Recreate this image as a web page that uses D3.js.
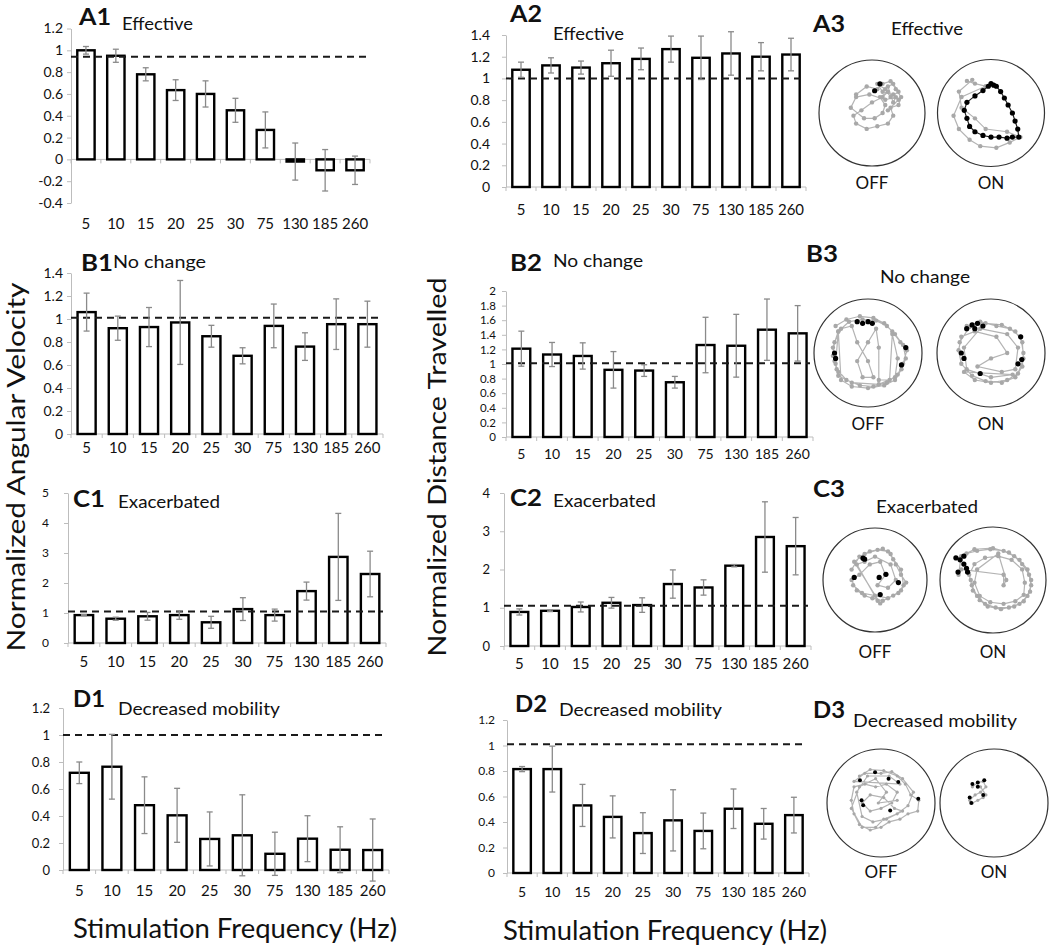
<!doctype html>
<html>
<head>
<meta charset="utf-8">
<title>Stimulation frequency panels</title>
<script src="https://d3js.org/d3.v7.min.js"></script>
<style>
	body { margin: 0; background: #fff; }
	text { font-family: Lato, "Open Sans", sans-serif; fill: #111; }
</style>
</head>
<body>
<div id="chart"></div>
<script>
// categories (Hz)
const freqs = ['5', '10', '15', '20', '25', '30', '75', '130', '185', '260'];

// bar means and error half-widths
const a1Mean = [1.0, 0.95, 0.78, 0.635, 0.6, 0.45, 0.27, -0.02, -0.1, -0.1];
const a1Err = [0.035, 0.06, 0.06, 0.095, 0.12, 0.11, 0.165, 0.17, 0.19, 0.13];
const a2Mean = [1.08, 1.12, 1.10, 1.14, 1.18, 1.27, 1.19, 1.23, 1.20, 1.22];
const a2Err = [0.07, 0.07, 0.06, 0.12, 0.10, 0.12, 0.20, 0.20, 0.13, 0.15];
const b1Mean = [1.06, 0.92, 0.93, 0.97, 0.85, 0.68, 0.94, 0.76, 0.955, 0.955];
const b1Err = [0.165, 0.105, 0.17, 0.365, 0.095, 0.07, 0.19, 0.12, 0.22, 0.2];
const b2Mean = [1.21, 1.13, 1.11, 0.92, 0.91, 0.75, 1.26, 1.25, 1.47, 1.42];
const b2Err = [0.24, 0.165, 0.18, 0.25, 0.08, 0.08, 0.38, 0.43, 0.42, 0.38];
const c1Mean = [0.93, 0.81, 0.89, 0.93, 0.69, 1.13, 0.93, 1.73, 2.87, 2.3];
const c1Err = [0.02, 0.05, 0.13, 0.14, 0.2, 0.38, 0.2, 0.3, 1.45, 0.76];
const c2Mean = [0.89, 0.92, 1.02, 1.13, 1.07, 1.62, 1.53, 2.1, 2.85, 2.61];
const c2Err = [0.08, 0.02, 0.13, 0.14, 0.19, 0.37, 0.2, 0.03, 0.92, 0.75];
const d1Mean = [0.72, 0.765, 0.48, 0.405, 0.23, 0.257, 0.12, 0.232, 0.15, 0.148];
const d1Err = [0.08, 0.24, 0.21, 0.2, 0.2, 0.3, 0.16, 0.17, 0.17, 0.23];
const d2Mean = [0.815, 0.815, 0.53, 0.44, 0.313, 0.413, 0.33, 0.504, 0.386, 0.454];
const d2Err = [0.02, 0.18, 0.165, 0.165, 0.16, 0.24, 0.14, 0.155, 0.12, 0.14];

// trajectories in the arena, x/y in units of arena radius (y down)
const a3OffGray = [[-0.3,-0.35],[-0.1,-0.5],[0.1,-0.45],[0.2,-0.55],[0.35,-0.6],[0.45,-0.45],[0.55,-0.3],[0.5,-0.15],[0.35,-0.1],[0.4,0.05],[0.3,0.2],[0.1,0.25],[-0.1,0.3],[-0.3,0.2],[-0.35,0.05],[-0.2,-0.05],[0.0,-0.2],[0.2,-0.3],[0.3,-0.4],[0.15,-0.3],[0.25,-0.15],[0.2,0.0],[0.05,0.1],[-0.15,0.1],[-0.4,-0.1],[-0.3,-0.3],[-0.05,-0.35],[0.25,-0.25],[0.45,-0.3],[0.4,-0.2],[0.3,-0.5],[0.4,-0.55],[0.5,-0.4],[0.35,-0.3],[0.25,-0.45],[0.1,-0.55],[0.2,-0.4],[0.4,-0.35],[0.5,-0.25],[0.3,-0.05]];
const a3OffBlack = [[0.15,-0.55],[0.05,-0.42]];
const a3OnGray = [[-0.45,-0.6],[-0.3,-0.55],[-0.1,-0.5],[-0.55,-0.3],[-0.7,0.05],[-0.6,0.3],[-0.4,0.5],[-0.2,0.62],[0.1,0.65],[0.35,0.55],[0.55,0.45],[0.3,0.35],[-0.1,0.3],[-0.3,0.1],[-0.55,-0.1],[-0.6,-0.4],[-0.35,-0.62]];
const a3OnBlack = [[0.0,-0.55],[0.1,-0.5],[0.18,-0.4],[0.25,-0.28],[0.32,-0.15],[0.4,0.0],[0.45,0.15],[0.5,0.3],[0.52,0.45],[0.4,0.45],[0.3,0.47],[0.15,0.45],[0.0,0.45],[-0.15,0.42],[-0.3,0.35],[-0.4,0.25],[-0.45,0.1],[-0.5,-0.05],[-0.45,-0.2],[-0.3,-0.32],[-0.15,-0.42],[-0.05,-0.5],[0.05,-0.52]];
const b3OffGray = [[-0.6,-0.5],[-0.4,-0.62],[-0.15,-0.68],[0.1,-0.65],[0.3,-0.55],[0.45,-0.4],[0.6,-0.2],[0.72,-0.05],[0.65,0.2],[0.55,0.4],[0.35,0.55],[0.1,0.62],[-0.15,0.6],[-0.4,0.5],[-0.58,0.3],[-0.65,0.05],[-0.62,-0.2],[-0.5,-0.45],[-0.3,-0.5],[-0.2,-0.2],[0.0,0.15],[0.1,0.45],[-0.1,0.45],[-0.2,0.15],[0.0,-0.2],[0.15,-0.45],[0.2,-0.1],[0.2,0.5],[0.4,0.5],[0.45,-0.35],[0.55,0.1],[0.5,0.45],[0.2,0.58],[-0.3,0.55],[-0.55,0.42],[-0.6,0.2],[-0.55,-0.4],[-0.5,0.5],[-0.3,0.62],[0.0,0.65],[0.3,0.6],[0.5,0.5],[0.62,0.3],[0.7,0.1],[0.65,-0.15],[0.5,-0.35],[0.35,-0.5],[0.15,-0.6],[-0.1,-0.62],[-0.35,-0.58],[-0.55,-0.4],[-0.65,-0.1],[-0.62,0.15],[-0.55,0.35]];
const b3OffBlack = [[-0.1,-0.55],[0.0,-0.58],[-0.2,-0.58],[0.08,-0.55],[-0.62,0.0],[-0.6,0.1],[0.7,-0.1],[0.62,0.22]];
const b3OnGray = [[-0.45,-0.5],[-0.2,-0.58],[0.1,-0.5],[0.35,-0.45],[0.55,-0.3],[0.6,0.0],[0.58,0.25],[0.45,0.45],[0.2,0.55],[-0.1,0.52],[-0.35,0.42],[-0.55,0.2],[-0.6,-0.05],[-0.55,-0.3],[-0.3,-0.4],[0.1,-0.3],[0.3,0.0],[0.0,0.1],[-0.25,0.25],[0.2,0.35],[0.45,0.3],[0.5,-0.1],[0.3,-0.35],[-0.2,-0.45],[-0.5,-0.1],[-0.45,0.3],[0.0,0.45],[0.4,0.4],[-0.5,0.35],[-0.3,0.5],[0.0,0.55],[0.3,0.5],[0.5,0.38],[0.6,0.1],[0.58,-0.2],[0.45,-0.4],[0.2,-0.52],[-0.1,-0.55],[-0.4,-0.48],[-0.58,-0.2]];
const b3OnBlack = [[-0.45,-0.45],[-0.35,-0.52],[-0.25,-0.55],[-0.15,-0.5],[-0.3,-0.45],[-0.55,0.0],[-0.5,0.1],[0.55,-0.3],[0.57,0.12],[0.5,0.2],[-0.2,0.38]];
const c3OffGray = [[-0.45,-0.2],[-0.3,-0.45],[-0.1,-0.55],[0.15,-0.6],[0.3,-0.5],[0.4,-0.3],[0.5,-0.1],[0.6,0.05],[0.5,0.2],[0.35,0.3],[0.15,0.4],[-0.05,0.35],[-0.2,0.3],[-0.35,0.2],[-0.45,0.0],[-0.3,-0.1],[-0.1,-0.3],[0.1,-0.35],[0.2,-0.1],[0.05,0.1],[0.25,0.15],[0.4,0.0],[0.3,-0.3],[0.0,-0.45],[-0.2,-0.35],[-0.35,-0.3],[0.05,0.4],[0.1,0.45],[-0.4,-0.35],[-0.2,-0.5],[0.05,-0.58],[0.25,-0.55],[0.35,-0.4],[0.5,-0.2],[0.55,0.1],[0.45,0.25],[0.25,0.35],[0.0,0.3],[-0.25,0.25],[-0.42,0.1]];
const c3OffBlack = [[-0.23,-0.42],[-0.2,-0.4],[0.21,-0.11],[0.08,-0.05],[-0.4,-0.05],[0.45,0.05],[0.1,0.28]];
const c3OnGray = [[-0.7,-0.4],[-0.5,-0.5],[-0.3,-0.55],[-0.05,-0.58],[0.2,-0.55],[0.4,-0.45],[0.55,-0.3],[0.68,-0.1],[0.72,0.1],[0.65,0.3],[0.5,0.45],[0.3,0.52],[0.05,0.52],[-0.15,0.45],[-0.3,0.3],[-0.4,0.1],[-0.45,-0.1],[-0.35,-0.3],[-0.15,-0.42],[0.1,-0.45],[0.35,-0.38],[0.55,-0.2],[0.6,0.05],[0.58,0.28],[0.42,0.4],[0.2,0.45],[-0.05,0.42],[-0.25,0.3],[-0.35,0.05],[-0.3,-0.2],[0.1,-0.5],[0.25,0.0],[0.2,0.1],[0.2,-0.1],[-0.6,-0.2],[-0.65,-0.1],[-0.6,-0.45],[-0.35,-0.58],[0.0,-0.6],[0.3,-0.52],[0.5,-0.38],[0.65,-0.2],[0.72,0.0],[0.7,0.22],[0.58,0.4],[0.4,0.5],[0.15,0.55],[-0.1,0.5],[-0.25,0.38],[-0.38,0.2],[-0.42,0.0]];
const c3OnBlack = [[-0.7,-0.42],[-0.62,-0.38],[-0.55,-0.3],[-0.5,-0.22],[-0.48,-0.15],[-0.66,-0.15],[-0.55,-0.45]];
const d3OffGray = [[-0.4,-0.5],[-0.2,-0.62],[0.05,-0.6],[0.3,-0.5],[0.45,-0.35],[0.55,-0.15],[0.7,-0.05],[0.68,0.15],[0.5,0.2],[0.35,0.3],[0.15,0.35],[0.0,0.45],[-0.2,0.5],[-0.4,0.4],[-0.5,0.2],[-0.55,-0.05],[-0.5,-0.3],[-0.3,-0.35],[-0.1,-0.3],[0.1,-0.35],[0.3,-0.2],[0.2,0.0],[0.0,0.1],[-0.2,0.15],[-0.35,0.0],[-0.2,-0.15],[0.05,-0.1],[0.25,0.1],[0.4,0.15],[0.1,0.3],[-0.15,0.35],[-0.35,0.25],[-0.45,-0.2],[-0.25,-0.5],[0.15,-0.5],[0.35,-0.35],[-0.5,-0.4],[-0.3,-0.55],[0.0,-0.55],[0.2,-0.58],[0.4,-0.45],[0.6,-0.2],[0.5,0.05],[0.3,0.2],[0.05,0.3],[-0.1,0.45],[-0.35,0.45],[-0.55,0.1],[-0.4,-0.3],[-0.1,-0.45],[0.1,-0.2],[-0.05,0.0],[0.3,-0.05]];
const d3OffBlack = [[-0.11,-0.57],[-0.39,-0.42],[0.14,-0.45],[0.32,-0.39],[0.69,-0.08],[-0.36,-0.05],[-0.33,0.04],[0.17,0.14]];
const d3OnGray = [[-0.4,-0.3],[-0.3,-0.38],[-0.2,-0.4],[-0.15,-0.3],[-0.25,-0.2],[-0.35,-0.15],[-0.45,-0.05],[-0.4,0.0],[-0.3,-0.05],[-0.2,-0.1],[-0.15,-0.15],[-0.25,-0.3]];
const d3OnBlack = [[-0.4,-0.35],[-0.3,-0.38],[-0.18,-0.42],[-0.45,-0.1],[-0.42,0.0],[-0.2,-0.15],[-0.3,-0.3]];

const W = 1050, H = 950;
const svg = d3.select('#chart').append('svg')
	.attr('width', W)
	.attr('height', H);

const fmt = d => String(+d.toFixed(1));

function barPanel(c) {
	const x = d3.scaleBand().domain(freqs).range([c.x0, c.x1])
		.paddingInner(0.42).paddingOuter(0.21);
	const y = d3.scaleLinear().domain(c.domain).range([c.yBot, c.yTop]);
	const g = svg.append('g');
	const ticks = d3.range(0, Math.round((c.domain[1] - c.domain[0]) / c.step) + 1)
		.map(i => c.domain[0] + i * c.step);

	// y axis
	g.append('g')
		.attr('transform', 'translate(' + c.x0 + ',0)')
		.call(d3.axisLeft(y).tickValues(ticks).tickSize(4).tickSizeOuter(0)
			.tickPadding(c.x0 - c.tickRight - 4).tickFormat(fmt))
		.attr('font-size', c.tickFont)
		.attr('font-family', 'Lato, sans-serif')
		.call(a => {
			a.select('.domain').attr('stroke', '#bdbdbd');
			a.selectAll('.tick line').attr('stroke', '#bdbdbd');
			a.selectAll('.tick text').attr('fill', '#333');
		});

	// x axis line with category boundary ticks
	const y0 = y(0);
	g.append('line')
		.attr('x1', c.x0).attr('x2', c.x1)
		.attr('y1', y0).attr('y2', y0)
		.attr('stroke', '#bdbdbd');
	const bounds = freqs.map(f => x(f) - (x.step() - x.bandwidth()) / 2).concat([c.x1]);
	g.selectAll('.xt').data(bounds).join('line')
		.attr('x1', d => d).attr('x2', d => d)
		.attr('y1', y0).attr('y2', y0 + 4)
		.attr('stroke', '#bdbdbd');

	g.selectAll('.cat').data(freqs).join('text')
		.attr('x', d => x(d) + x.bandwidth() / 2)
		.attr('y', c.catY)
		.attr('text-anchor', 'middle')
		.attr('font-size', c.catFont)
		.attr('fill', '#333')
		.text(d => d);

	// bars
	g.selectAll('.bar').data(c.mean).join('rect')
		.attr('x', (d, i) => x(freqs[i]))
		.attr('y', d => y(Math.max(d, 0)))
		.attr('width', x.bandwidth())
		.attr('height', d => Math.max(Math.abs(y(d) - y0), 1))
		.attr('fill', '#fff')
		.attr('stroke', '#000')
		.attr('stroke-width', 2.4);

	// reference line
	g.append('line')
		.attr('x1', c.x0).attr('x2', c.x1 - 3)
		.attr('y1', y(c.ref)).attr('y2', y(c.ref))
		.attr('stroke', '#1a1a1a')
		.attr('stroke-width', 2)
		.attr('stroke-dasharray', '7,5');

	// error bars
	const eb = g.selectAll('.err').data(c.mean).join('g')
		.attr('transform', (d, i) => 'translate(' + (x(freqs[i]) + x.bandwidth() / 2) + ',0)');
	eb.append('line')
		.attr('y1', (d, i) => y(d - c.err[i]))
		.attr('y2', (d, i) => y(d + c.err[i]));
	eb.append('line')
		.attr('x1', -3).attr('x2', 3)
		.attr('y1', (d, i) => y(d + c.err[i]))
		.attr('y2', (d, i) => y(d + c.err[i]));
	eb.append('line')
		.attr('x1', -3).attr('x2', 3)
		.attr('y1', (d, i) => y(d - c.err[i]))
		.attr('y2', (d, i) => y(d - c.err[i]));
	eb.selectAll('line').attr('stroke', '#8a8a8a').attr('stroke-width', 1.3);

	panelTitle(c.letter, c.lx, c.ly, c.sub, c.sx, c.sy, c.subLen, 'start');
}

function panelTitle(letter, lx, ly, sub, sx, sy, subLen, anchor) {
	svg.append('text')
		.attr('x', lx).attr('y', ly)
		.attr('font-size', 23)
		.attr('font-weight', 'bold')
		.attr('fill', '#000')
		.attr('textLength', 32)
		.attr('lengthAdjust', 'spacingAndGlyphs')
		.text(letter);
	svg.append('text')
		.attr('x', sx).attr('y', sy)
		.attr('font-size', 17)
		.attr('text-anchor', anchor)
		.attr('textLength', subLen)
		.attr('lengthAdjust', 'spacingAndGlyphs')
		.text(sub);
}

function arena(cx, cy, r, gray, black, label, labelY, dotR, joinBlack) {
	const sx = d3.scaleLinear().domain([-1, 1]).range([cx - r, cx + r]);
	const sy = d3.scaleLinear().domain([-1, 1]).range([cy - r, cy + r]);
	const g = svg.append('g');
	g.append('circle')
		.attr('cx', sx(0)).attr('cy', sy(0))
		.attr('r', sx(1) - sx(0))
		.attr('fill', 'none')
		.attr('stroke', '#333')
		.attr('stroke-width', 1.2);
	const line = d3.line().x(d => sx(d[0])).y(d => sy(d[1]));
	g.append('path').datum(gray)
		.attr('d', line)
		.attr('fill', 'none')
		.attr('stroke', '#b4b4b4')
		.attr('stroke-width', 1.2);
	g.selectAll('.gd').data(gray).join('circle')
		.attr('cx', d => sx(d[0])).attr('cy', d => sy(d[1]))
		.attr('r', dotR)
		.attr('fill', '#a8a8a8');
	if (joinBlack) {
		g.append('path').datum(black)
			.attr('d', line)
			.attr('fill', 'none')
			.attr('stroke', '#222')
			.attr('stroke-width', 1.2);
	}
	g.selectAll('.bd').data(black).join('circle')
		.attr('cx', d => sx(d[0])).attr('cy', d => sy(d[1]))
		.attr('r', dotR + 0.4)
		.attr('fill', '#000');
	g.append('text')
		.attr('x', cx).attr('y', labelY)
		.attr('text-anchor', 'middle')
		.attr('font-size', 17)
		.text(label);
}

barPanel({ x0: 71, x1: 370, yTop: 28.5, yBot: 203, domain: [-0.4, 1.2], step: 0.2, ref: 0.94,
	tickRight: 63, tickFont: 14, catY: 229, catFont: 15, mean: a1Mean, err: a1Err,
	letter: 'A1', lx: 79, ly: 25, sub: 'Effective', sx: 122, sy: 30, subLen: 71 });
barPanel({ x0: 506, x1: 806, yTop: 35, yBot: 187, domain: [0, 1.4], step: 0.2, ref: 1.0,
	tickRight: 490, tickFont: 14, catY: 215, catFont: 15, mean: a2Mean, err: a2Err,
	letter: 'A2', lx: 510, ly: 22, sub: 'Effective', sx: 553, sy: 40, subLen: 71 });
barPanel({ x0: 71, x1: 383, yTop: 273, yBot: 434, domain: [0, 1.4], step: 0.2, ref: 1.01,
	tickRight: 63, tickFont: 14, catY: 453, catFont: 15, mean: b1Mean, err: b1Err,
	letter: 'B1', lx: 81, ly: 271, sub: 'No change', sx: 113, sy: 268, subLen: 93 });
barPanel({ x0: 506, x1: 813, yTop: 291, yBot: 437, domain: [0, 2], step: 0.2, ref: 1.01,
	tickRight: 496, tickFont: 11.5, catY: 459, catFont: 14, mean: b2Mean, err: b2Err,
	letter: 'B2', lx: 510, ly: 271, sub: 'No change', sx: 553, sy: 267, subLen: 90 });
barPanel({ x0: 68, x1: 386, yTop: 493, yBot: 643, domain: [0, 5], step: 1, ref: 1.05,
	tickRight: 49, tickFont: 12, catY: 667, catFont: 15, mean: c1Mean, err: c1Err,
	letter: 'C1', lx: 73, ly: 507, sub: 'Exacerbated', sx: 118, sy: 508, subLen: 102 });
barPanel({ x0: 504, x1: 811, yTop: 493, yBot: 646, domain: [0, 4], step: 1, ref: 1.05,
	tickRight: 490, tickFont: 13, catY: 669, catFont: 15, mean: c2Mean, err: c2Err,
	letter: 'C2', lx: 510, ly: 506, sub: 'Exacerbated', sx: 553, sy: 507, subLen: 103 });
barPanel({ x0: 63, x1: 389, yTop: 708, yBot: 870, domain: [0, 1.2], step: 0.2, ref: 1.0,
	tickRight: 50, tickFont: 13, catY: 896, catFont: 15, mean: d1Mean, err: d1Err,
	letter: 'D1', lx: 73, ly: 707, sub: 'Decreased mobility', sx: 118, sy: 715, subLen: 162 });
barPanel({ x0: 507, x1: 809, yTop: 720, yBot: 873, domain: [0, 1.2], step: 0.2, ref: 1.01,
	tickRight: 495, tickFont: 12, catY: 897, catFont: 14, mean: d2Mean, err: d2Err,
	letter: 'D2', lx: 515, ly: 712, sub: 'Decreased mobility', sx: 559, sy: 716, subLen: 163 });

// arena panels
panelTitle('A3', 813, 32, 'Effective', 927, 35, 72, 'middle');
arena(872, 113, 53, a3OffGray, a3OffBlack, 'OFF', 189, 2.2, false);
arena(991, 113, 53.5, a3OnGray, a3OnBlack, 'ON', 189, 2.2, true);

panelTitle('B3', 806, 262, 'No change', 925, 283, 90, 'middle');
arena(868, 353, 54, b3OffGray, b3OffBlack, 'OFF', 430, 2.2, false);
arena(991, 353, 54, b3OnGray, b3OnBlack, 'ON', 430, 2.2, false);

panelTitle('C3', 813, 497, 'Exacerbated', 927, 513, 102, 'middle');
arena(875, 580, 52, c3OffGray, c3OffBlack, 'OFF', 658, 2.2, false);
arena(993, 580, 53, c3OnGray, c3OnBlack, 'ON', 658, 2.2, false);

panelTitle('D3', 813, 718, 'Decreased mobility', 853, 727, 164, 'start');
arena(881, 803, 54, d3OffGray, d3OffBlack, 'OFF', 878, 1.6, false);
arena(994, 803, 54, d3OnGray, d3OnBlack, 'ON', 878, 1.6, false);

// shared axis titles
svg.append('text')
	.attr('transform', 'translate(25,467) rotate(-90)')
	.attr('text-anchor', 'middle')
	.attr('font-size', 25)
	.attr('textLength', 369)
	.attr('lengthAdjust', 'spacingAndGlyphs')
	.text('Normalized Angular Velocity');
svg.append('text')
	.attr('transform', 'translate(446,467) rotate(-90)')
	.attr('text-anchor', 'middle')
	.attr('font-size', 25)
	.attr('textLength', 379)
	.attr('lengthAdjust', 'spacingAndGlyphs')
	.text('Normalized Distance Travelled');
svg.append('text')
	.attr('x', 235).attr('y', 938)
	.attr('text-anchor', 'middle')
	.attr('font-size', 26)
	.attr('textLength', 324)
	.attr('lengthAdjust', 'spacingAndGlyphs')
	.text('Stimulation Frequency (Hz)');
svg.append('text')
	.attr('x', 665).attr('y', 940)
	.attr('text-anchor', 'middle')
	.attr('font-size', 26)
	.attr('textLength', 324)
	.attr('lengthAdjust', 'spacingAndGlyphs')
	.text('Stimulation Frequency (Hz)');
</script>
</body>
</html>
